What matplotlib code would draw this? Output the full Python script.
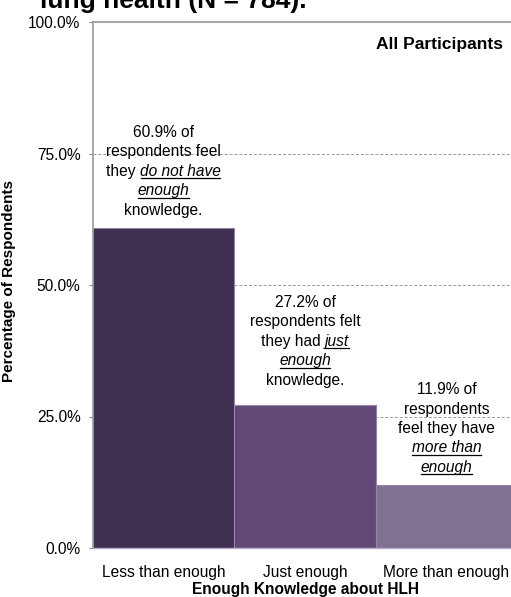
import matplotlib
matplotlib.use("Agg")
import matplotlib.pyplot as plt
from matplotlib.lines import Line2D

plt.rcParams['font.family'] = ['Liberation Sans', 'DejaVu Sans']

# Survey results: self-rated knowledge about HLH
categories = ["Less than enough", "Just enough", "More than enough"]
percentages = [60.9, 27.2, 11.9]
bar_colors = ["#3E2E4F", "#624877", "#807091"]
yticks = [0, 25, 50, 75, 100]

# Each note line is a list of (text, emphasised) segments
notes = [
    [[("60.9% of", False)],
     [("respondents feel", False)],
     [("they ", False), ("do not have", True)],
     [("enough", True)],
     [("knowledge.", False)]],
    [[("27.2% of", False)],
     [("respondents felt", False)],
     [("they had ", False), ("just", True)],
     [("enough", True)],
     [("knowledge.", False)]],
    [[("11.9% of", False)],
     [("respondents", False)],
     [("feel they have", False)],
     [("more than", True)],
     [("enough", True)]],
]
note_y = [71.7, 39.4, 22.8]

W, H = 511, 597
fig = plt.figure(figsize=(W / 100, H / 100), dpi=100)
ax = fig.add_axes([93 / W, (H - 548) / H, (517 - 93) / W, (548 - 22) / H])

x = range(len(categories))
ax.bar(x, percentages, width=1.0, color=bar_colors, edgecolor="#9485A8",
       linewidth=0.8, zorder=2)

fs = 11.2
ax.set_xlim(-0.5, 2.5)
ax.set_ylim(0, 100)
ax.set_yticks(yticks)
ax.set_yticklabels([f"{v:.1f}%" for v in yticks], fontsize=fs)
ax.set_xticks(list(x))
ax.set_xticklabels(categories, fontsize=fs)
ax.tick_params(axis='x', length=0, pad=12)
ax.tick_params(axis='y', length=3, width=0.8, color="#888888", pad=6)

for v in [25, 50, 75]:
    ax.axhline(v, color="#9A9A9A", linestyle=(0, (3, 2)), linewidth=0.7, zorder=1)

for side in ["left", "top"]:
    ax.spines[side].set_color("#9A9A9A")
    ax.spines[side].set_linewidth(1.2)
ax.spines["bottom"].set_color("#B8AEC6")
ax.spines["bottom"].set_linewidth(1.0)
ax.spines["right"].set_visible(False)

# Notes above the bars, with underlined italic emphasis
renderer = fig.canvas.get_renderer()
line_h = 19.4  # pixels between baselines


def seg_width(s, italic):
    t = fig.text(0, 0, s, fontsize=fs, style="italic" if italic else "normal")
    w = t.get_window_extent(renderer).width
    t.remove()
    return w


for i, (lines, yy) in enumerate(zip(notes, note_y)):
    cx, cy = ax.transData.transform((i, yy))
    n = len(lines)
    top_base = cy + (n - 1) / 2 * line_h - 5
    for k, segs in enumerate(lines):
        base = top_base - k * line_h
        widths = [seg_width(s, it) for s, it in segs]
        x0 = cx - sum(widths) / 2
        for (s, it), w in zip(segs, widths):
            fig.text(x0 / W, base / H, s, fontsize=fs,
                     style="italic" if it else "normal",
                     ha="left", va="baseline", zorder=3)
            if it:
                fig.add_artist(Line2D([(x0 + 0.5) / W, (x0 + w - 0.5) / W],
                                      [(base - 2.5) / H, (base - 2.5) / H],
                                      color="black", linewidth=0.9))
            x0 += w

fig.text(503 / W, 1 - 44 / H, "All Participants",
         ha="right", va="center", fontsize=12.5, fontweight="bold")

ax.set_ylabel("Percentage of Respondents", fontsize=11, fontweight="bold")
ax.yaxis.set_label_coords((16 - 93) / (517 - 93), (548 - 281) / (548 - 22))
ax.set_xlabel("Enough Knowledge about HLH", fontsize=fs, fontweight="bold", labelpad=2)

fig.text(40 / W, 1 - 8 / H, "lung health (N = 784).", ha="left", va="baseline",
         fontsize=19, fontweight="bold")

fig.savefig("out.png", dpi=100)
